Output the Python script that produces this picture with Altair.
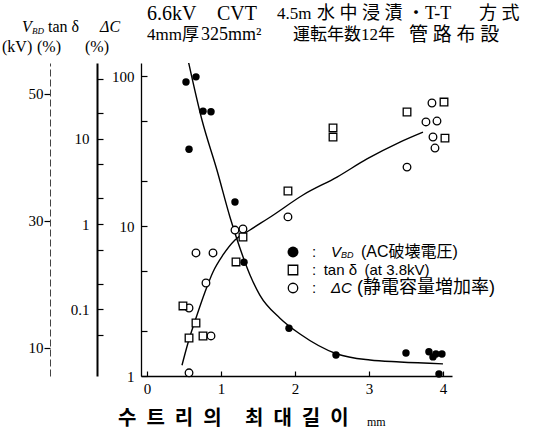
import altair as alt
import pandas as pd

# ---- measured values -------------------------------------------------------
# AC breakdown voltage V_BD (kV) against maximum water-tree length (mm)
vbd_x = [0.527, 0.662, 0.757, 0.865, 0.568, 1.189, 1.311, 1.919, 2.554,
         3.50, 3.81, 3.865, 3.905, 3.986, 3.946]
vbd_kv = [51.9, 52.7, 47.3, 47.2, 41.3, 33.0, 23.5, 13.1, 8.9,
          9.2, 9.4, 8.6, 9.05, 9.05, 5.9]

# trend of V_BD
vbd_curve_x = [0.554, 0.743, 0.946, 1.122, 1.257, 1.392, 1.527, 1.797,
               2.068, 2.568, 3.014, 3.419, 4.0]
vbd_curve_kv = [55.4, 45.9, 38.0, 30.6, 25.7, 21.5, 18.3, 14.7,
                12.2, 9.06, 8.1, 7.8, 7.5]

# tan delta at 3.8 kV (%)
tan_x = [1.297, 1.203, 0.757, 0.568, 0.662, 0.486, 1.905, 2.514, 2.514,
         4.014, 3.514, 4.027]
tan_pct = [0.705, 0.36, 0.049, 0.0464, 0.0695, 0.110, 2.43, 13.3, 10.4,
           26.7, 20.4, 10.1]

# capacitance increase dC (%)
dc_x = [0.662, 0.892, 0.797, 0.568, 0.568, 1.189, 1.297, 0.865, 1.905,
        3.851, 3.77, 3.919, 3.865, 3.892, 3.514]
dc_pct = [6.61, 6.61, 4.17, 2.84, 1.05, 9.40, 9.55, 1.85, 11.5,
          66.1, 49.4, 50.1, 39.2, 33.1, 24.7]

# common rising trend of tan delta / dC
rise_curve_x = [0.473, 0.554, 0.676, 0.784, 0.892, 1.027, 1.189, 1.392,
                1.703, 2.108, 2.568, 2.973, 3.419, 3.73]
rise_curve_pct = [1.18, 1.66, 2.55, 3.63, 4.94, 6.41, 8.07, 9.40,
                  11.8, 16.1, 21.2, 28.0, 36.3, 42.3]

# axis ticks and labels
x_ticks = [0, 1, 2, 3, 4]
vbd_ticks = [10, 30, 50]
tan_ticks = [0.05, 0.1, 0.2, 0.5, 1, 2, 5, 10, 20, 50]
tan_labels = [0.1, 1, 10]
dc_ticks = [1, 2, 5, 10, 20, 50, 100]
dc_labels = [1, 10, 100]

# heading pieces (line 1, line 2) and axis title words
SP = "\u2002"  # en space: keeps its width inside SVG text
title_1 = ["6.6kV", "CVT", "4.5m", "水 中 浸 漬", "・T-T", "方 式"]
title_2 = ["4mm厚", "325mm²", "運転年数12年", "管 路 布 設"]
x_title = [SP.join("수트리의"), SP.join("최대길이")]
x_unit = "mm"

# ---- layout ----------------------------------------------------------------
W, H = 311, 313
SERIF = "Liberation Serif, Noto Sans CJK JP"
SANS = "Liberation Sans, Noto Sans CJK JP"

vbd_df = pd.DataFrame({"x": vbd_x, "v": vbd_kv})
vbd_curve_df = pd.DataFrame({"x": vbd_curve_x, "v": vbd_curve_kv})
tan_df = pd.DataFrame({"x": tan_x, "v": tan_pct})
dc_df = pd.DataFrame({"x": dc_x, "v": dc_pct})
rise_df = pd.DataFrame({"x": rise_curve_x, "v": rise_curve_pct})
one = pd.DataFrame({"k": [0]})

x_scale = alt.Scale(domain=[-0.081, 4.122], nice=False, zero=False)
x_axis = alt.Axis(values=x_ticks, format="d", tickSize=alt.ExprRef(expr="-5"),
                  labelPadding=10, domainWidth=1.5, title=None)
x_enc = alt.X("x:Q", scale=x_scale, axis=x_axis)

vbd_scale = alt.Scale(domain=[5.59, 54.88], zero=False, nice=False)
tan_scale = alt.Scale(type="log", domain=[0.01668, 76.4], nice=False)
dc_scale = alt.Scale(type="log", domain=[1, 122.1], nice=False)

vbd_axis = alt.Axis(orient="left", offset=91, values=vbd_ticks, format="d",
                    tickSize=6, labelPadding=1, domainDash=[7, 3],
                    domainColor="#444", title=None)
tan_axis = alt.Axis(orient="left", offset=44, values=tan_ticks,
                    tickSize=alt.ExprRef(expr="-6"), labelPadding=14,
                    domainWidth=2, title=None,
                    labelExpr=f"indexof({tan_labels}, datum.value) >= 0 ? '' + datum.value : ''")
dc_axis = alt.Axis(orient="left", offset=0, values=dc_ticks,
                   tickSize=alt.ExprRef(expr="-6"), labelPadding=13,
                   domainWidth=1.3, title=None,
                   labelExpr=f"indexof({dc_labels}, datum.value) >= 0 ? '' + datum.value : ''")

line_style = dict(color="black", strokeWidth=1.4, clip=True, interpolate="monotone")
open_style = dict(filled=True, fill="white", stroke="black", strokeWidth=1.3,
                  opacity=1, size=58)

vbd_line = alt.Chart(vbd_curve_df).mark_line(**line_style).encode(
    x=x_enc, y=alt.Y("v:Q", scale=vbd_scale, axis=None))
rise_line = alt.Chart(rise_df).mark_line(**line_style).encode(
    x=x_enc, y=alt.Y("v:Q", scale=dc_scale, axis=None))
vbd_pts = alt.Chart(vbd_df).mark_circle(color="black", size=55, opacity=1).encode(
    x=x_enc, y=alt.Y("v:Q", scale=vbd_scale, axis=vbd_axis))
dc_pts = alt.Chart(dc_df).mark_point(shape="circle", **open_style).encode(
    x=x_enc, y=alt.Y("v:Q", scale=dc_scale, axis=dc_axis))
tan_pts = alt.Chart(tan_df).mark_point(shape="square", **open_style).encode(
    x=x_enc, y=alt.Y("v:Q", scale=tan_scale, axis=tan_axis))


def label(text, x, y, size=15, font=SERIF, style="normal", weight="normal"):
    return alt.Chart(one).mark_text(
        text=text, font=font, fontSize=size, fontStyle=style, fontWeight=weight,
        align="left", baseline="middle", color="black",
    ).encode(x=alt.value(x), y=alt.value(y))


def glyph(shape, x, y, filled):
    if filled:
        mk = alt.Chart(one).mark_point(shape=shape, filled=True, color="black",
                                       opacity=1, size=120)
    else:
        mk = alt.Chart(one).mark_point(shape=shape, **{**open_style, "size": 90})
    return mk.encode(x=alt.value(x), y=alt.value(y))


# x offsets (plot coordinates) and font sizes of the heading pieces
t1_pos = [6, 76, 136, 176, 266, 338]
t1_size = [20, 20, 17, 18, 18, 18]
t2_pos = [6, 60, 152, 268]
t2_size = [17, 18, 17, 19]

texts = [
    # axis headers
    label("V", -119, -36, size=16, style="italic"),
    label("BD", -109, -32, size=9, style="italic"),
    label("tan δ", -93, -36, size=16),
    label("ΔC", -41, -36, size=16, style="italic"),
    label("(kV)", -139, -16, size=16),
    label("(%)", -104, -16, size=16),
    label("(%)", -56, -16, size=16),
    # x title
    label(x_title[0], -23, 356, size=20, font="Noto Sans CJK KR", weight="bold"),
    label(x_title[1], 104, 356, size=20, font="Noto Sans CJK KR", weight="bold"),
    label(x_unit, 226, 359, size=12),
    # key
    glyph("circle", 152, 189, True),
    glyph("square", 152, 207, False),
    glyph("circle", 152, 225, False),
    label(":", 171, 189, size=15, font=SANS),
    label("V", 190, 189, size=15, font=SANS, style="italic"),
    label("BD", 200, 192, size=9, font=SANS, style="italic"),
    label("(AC破壊電圧)", 220, 189, size=16, font=SANS),
    label(f":{SP}tan δ{SP}(at 3.8kV)", 171, 207, size=15, font=SANS),
    label(":", 171, 225, size=15, font=SANS),
    label("ΔC", 190, 225, size=15, font=SANS, style="italic"),
    label("(静電容量増加率)", 216, 225, size=18, font=SANS),
]
texts += [label(t, p, -49, size=s) for t, p, s in zip(title_1, t1_pos, t1_size)]
texts += [label(t, p, -28, size=s) for t, p, s in zip(title_2, t2_pos, t2_size)]

chart = alt.layer(
    vbd_line, rise_line, vbd_pts, dc_pts, tan_pts, *texts
).resolve_scale(y="independent").properties(
    width=W, height=H,
    padding={"left": 141, "top": 63, "right": 87, "bottom": 60},
    autosize=alt.AutoSizeParams(type="none"),
    background="white",
).configure_view(stroke=None).configure_axis(
    grid=False, labelFont="Liberation Serif", labelFontSize=15,
    labelColor="black", domainColor="black", tickColor="black", tickWidth=1.2,
)

chart.save("out.html", embed_options={"renderer": "svg", "actions": False})
